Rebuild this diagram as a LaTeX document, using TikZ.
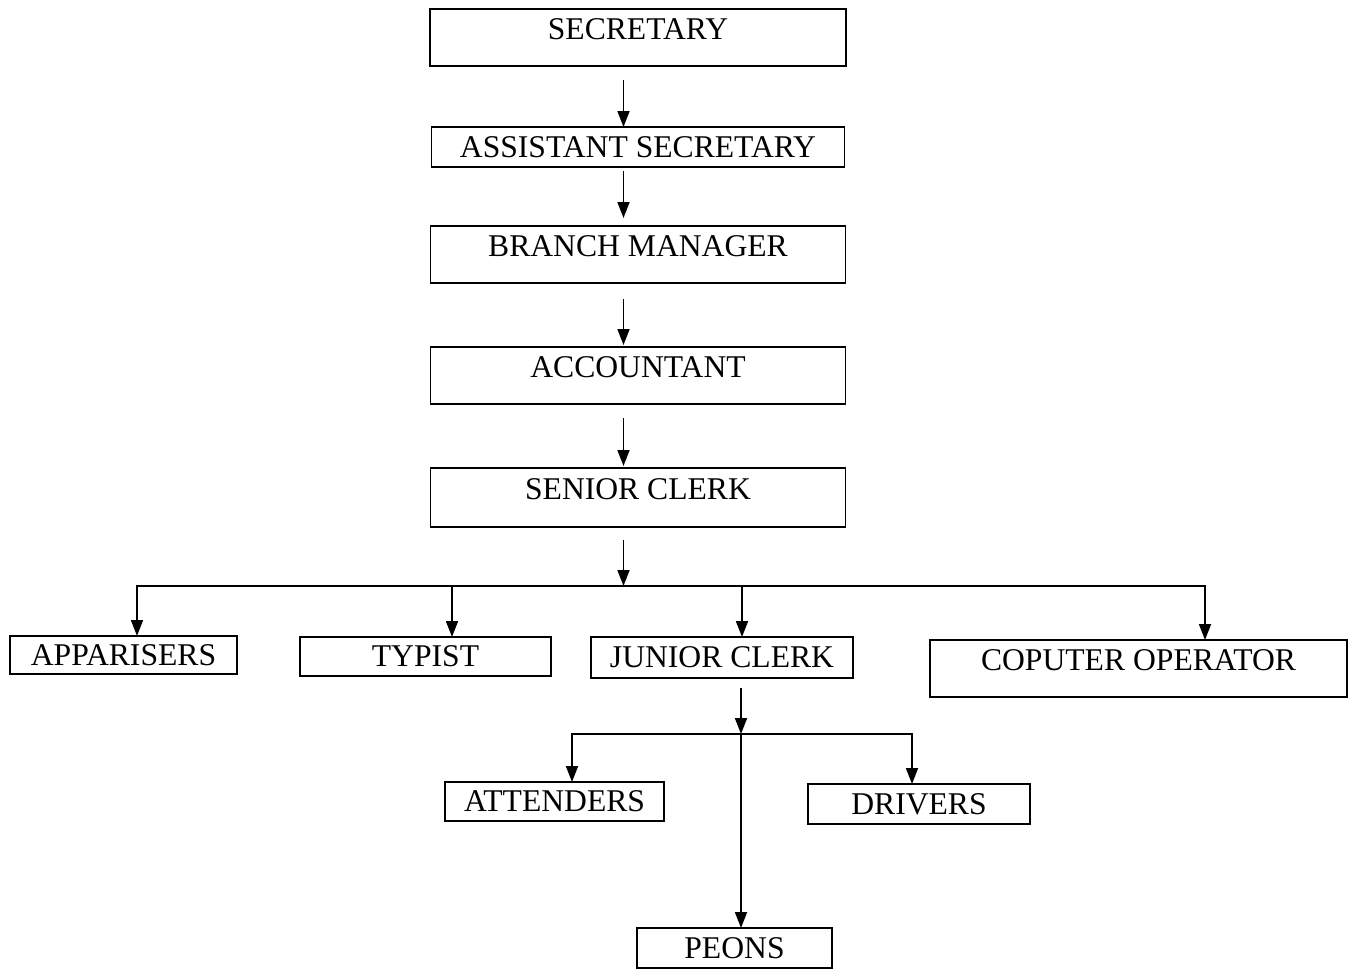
\documentclass[tikz,border=0pt]{standalone}
\usepackage{fontspec}
\setmainfont{Liberation Serif}
\usetikzlibrary{arrows.meta,positioning}

\begin{document}
\begin{tikzpicture}[
    node distance=1.25cm,
    post/.style={rectangle, draw, line width=1pt, inner sep=0pt, outer sep=0pt, font=\fontsize{18}{21}\selectfont},
    tallpost/.style={post, text height=0.6cm, text depth=0.54cm},
    slimpost/.style={post, minimum height=0.8cm},
    arrow/.style={-{Triangle[length=0.32cm,width=0.24cm]}, line width=1pt}
]
\useasboundingbox (0,0) rectangle (27.1,-19.36);

% Main chain
\node[tallpost, minimum width=8.32cm] (secretary) at (12.76,-0.75) {SECRETARY};
\node[slimpost, minimum width=8.26cm, below=1.22cm of secretary] (asst) {ASSISTANT SECRETARY};
\node[tallpost, minimum width=8.3cm, below=1.18cm of asst] (manager) {BRANCH MANAGER};
\node[tallpost, minimum width=8.3cm, below=1.28cm of manager] (accountant) {ACCOUNTANT};
\node[tallpost, minimum width=8.3cm, minimum height=1.18cm, below=1.28cm of accountant] (senior) {SENIOR CLERK};

% Staff under senior clerk
\node[slimpost, minimum width=4.54cm, minimum height=0.76cm] (apprais) at (2.47,-13.1) {APPARISERS};
\node[slimpost, minimum width=5.02cm, minimum height=0.78cm] (typist) at (8.51,-13.13) {TYPIST};
\node[slimpost, minimum width=5.24cm, minimum height=0.82cm] (junior) at (14.44,-13.15) {JUNIOR CLERK};
\node[tallpost, minimum width=8.34cm] (operator) at (22.77,-13.37) {COPUTER OPERATOR};

% Staff under junior clerk
\node[slimpost, minimum width=4.38cm, minimum height=0.78cm] (attend) at (11.09,-16.03) {ATTENDERS};
\node[slimpost, minimum width=4.44cm, minimum height=0.8cm] (drivers) at (18.38,-16.08) {DRIVERS};
\node[slimpost, minimum width=3.9cm] (peons) at (14.69,-18.96) {PEONS};

% Junctions
\coordinate (spine) at (12.47,-11.72);
\coordinate (jcjoin) at (14.82,-14.68);

% Chain arrows
\draw[arrow, shorten <=0.28cm] (secretary.south -| spine) -- (asst.north -| spine);
\draw[arrow, shorten <=0.08cm, shorten >=0.16cm] (asst.south -| spine) -- (manager.north -| spine);
\draw[arrow, shorten <=0.32cm, shorten >=0.04cm] (manager.south -| spine) -- (accountant.north -| spine);
\draw[arrow, shorten <=0.28cm, shorten >=0.04cm] (accountant.south -| spine) -- (senior.north -| spine);
\draw[arrow, shorten <=0.26cm] (senior.south -| spine) -- (spine);

% Branches from senior clerk
\draw[arrow] (spine) -| ([xshift=0.27cm]apprais.north);
\draw[arrow] (spine) -| ([xshift=0.53cm]typist.north);
\draw[arrow] (spine) -| ([xshift=0.4cm]junior.north);
\draw[arrow] (spine) -| ([xshift=1.33cm]operator.north);

% Branches from junior clerk
\draw[arrow, shorten <=0.2cm] (junior.south -| jcjoin) -- (jcjoin);
\draw[arrow] (jcjoin) -| ([xshift=0.35cm]attend.north);
\draw[arrow] (jcjoin) -| ([xshift=-0.14cm]drivers.north);
\draw[arrow] (jcjoin) -- (peons.north -| jcjoin);

\end{tikzpicture}
\end{document}
